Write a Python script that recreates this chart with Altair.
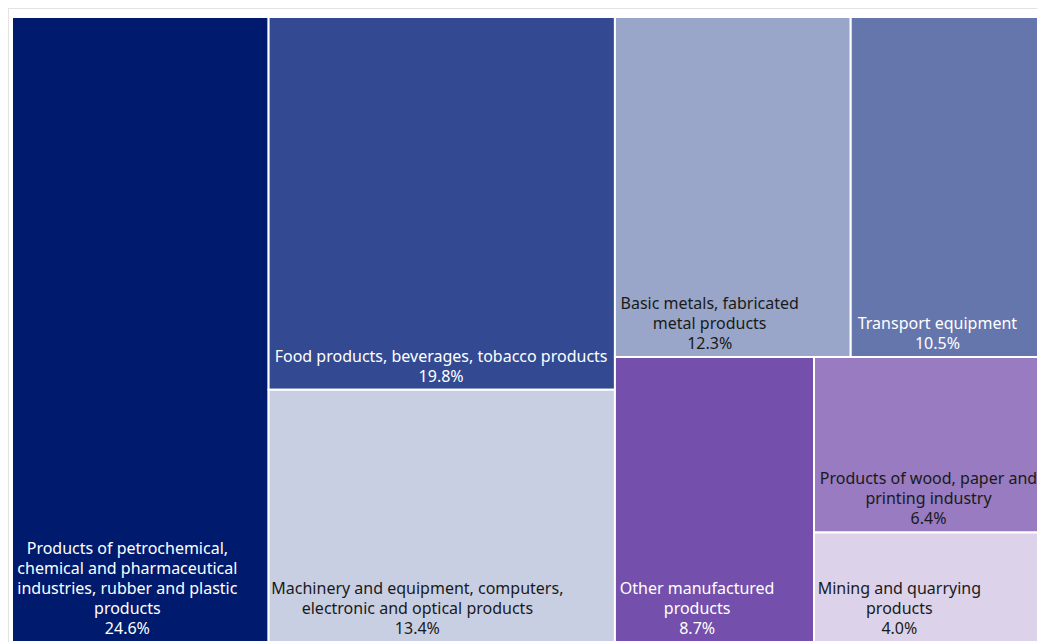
import altair as alt
import pandas as pd

# ---- data -------------------------------------------------------------
categories = [
    "Products of petrochemical, chemical and pharmaceutical industries, rubber and plastic products",
    "Food products, beverages, tobacco products",
    "Machinery and equipment, computers, electronic and optical products",
    "Basic metals, fabricated metal products",
    "Transport equipment",
    "Other manufactured products",
    "Products of wood, paper and printing industry",
    "Mining and quarrying products",
]
shares = [24.6, 19.8, 13.4, 12.3, 10.5, 8.7, 6.4, 4.0]
label_lines = [
    ["Products of petrochemical,", "chemical and pharmaceutical",
     "industries, rubber and plastic", "products"],
    ["Food products, beverages, tobacco products"],
    ["Machinery and equipment, computers,", "electronic and optical products"],
    ["Basic metals, fabricated", "metal products"],
    ["Transport equipment"],
    ["Other manufactured", "products"],
    ["Products of wood, paper and", "printing industry"],
    ["Mining and quarrying", "products"],
]
fill_colors = ["#001b6e", "#334a93", "#c9cfe3", "#99a6c9",
               "#6576ad", "#744fab", "#987bc0", "#dcd3eb"]
text_colors = ["#ffffff", "#ffffff", "#1a1a1a", "#1a1a1a",
               "#ffffff", "#ffffff", "#1a1a1a", "#1a1a1a"]

# slice-and-dice structure of the treemap (indices into the arrays above)
layout_tree = ("h", [0, ("v", [1, 2]),
                     ("v", [("h", [3, 4]), ("h", [5, ("v", [6, 7])])])])

TREE_W, TREE_H = 1040.0, 625.0   # treemap extent in scale units (1 unit = 1 px)
FONT_SIZE = 16
LINE_H = 20
PAD = 7

# approximate glyph advance widths (per 1000 em) for Noto Sans
_W = {"a": 561, "b": 615, "c": 480, "d": 615, "e": 564, "f": 344, "g": 615,
      "h": 618, "i": 258, "j": 258, "k": 534, "l": 258, "m": 935, "n": 618,
      "o": 605, "p": 615, "q": 615, "r": 413, "s": 479, "t": 361, "u": 618,
      "v": 508, "w": 786, "x": 529, "y": 510, "z": 470, " ": 260, ",": 268,
      ".": 268, "%": 838}


def text_width(s):
    tot = 0
    for ch in s:
        if ch in _W:
            tot += _W[ch]
        elif ch.isdigit():
            tot += 572
        elif ch.isupper():
            tot += 640
        else:
            tot += 560
    return tot / 1000.0 * FONT_SIZE * 0.985


def total(node):
    if isinstance(node, int):
        return shares[node]
    return sum(total(k) for k in node[1])


def place(node, x0, y0, x1, y1, out):
    if isinstance(node, int):
        out[node] = (x0, y0, x1, y1)
        return
    direction, kids = node
    t = total(node)
    pos = x0 if direction == "h" else y0
    for k in kids:
        frac = total(k) / t
        if direction == "h":
            nxt = pos + (x1 - x0) * frac
            place(k, pos, y0, nxt, y1, out)
        else:
            nxt = pos + (y1 - y0) * frac
            place(k, x0, pos, x1, nxt, out)
        pos = nxt


rects = {}
place(layout_tree, 0.0, 0.0, TREE_W, TREE_H, rects)

rows = []
for i, cat in enumerate(categories):
    x0, y0, x1, y1 = rects[i]
    lines = label_lines[i] + [f"{shares[i]:.1f}%"]
    block_w = max(text_width(s) for s in lines)
    rows.append({
        "category": cat,
        "x0": x0, "x1": x1, "y0": y0, "y1": y1,
        "tx": x0 + PAD + block_w / 2,
        "ty": y1 - 8 - (len(lines) - 1) * LINE_H,
        "label": "\n".join(lines),
        "tcol": text_colors[i],
    })
df = pd.DataFrame(rows)

CW, CH = 1029, 640
xs = alt.Scale(domain=[-4, CW - 4])
ys = alt.Scale(domain=[-9, CH - 9], reverse=True)

base = alt.Chart(df)

rect = base.mark_rect(stroke="white", strokeWidth=2).encode(
    x=alt.X("x0:Q", scale=xs, axis=None),
    x2="x1:Q",
    y=alt.Y("y0:Q", scale=ys, axis=None),
    y2="y1:Q",
    color=alt.Color("category:N",
                    scale=alt.Scale(domain=categories, range=fill_colors),
                    legend=None),
)

text = base.mark_text(align="center", baseline="alphabetic", lineBreak="\n",
                      font="Noto Sans", fontSize=FONT_SIZE,
                      lineHeight=LINE_H).encode(
    x=alt.X("tx:Q", scale=xs, axis=None),
    y=alt.Y("ty:Q", scale=ys, axis=None),
    text="label:N",
    color=alt.Color("tcol:N", scale=None),
)

frame = alt.Chart(pd.DataFrame({"k": [0]}))
top_line = frame.mark_rule(color="#e3e3e3", strokeWidth=1).encode(
    x=alt.value(0), x2=alt.value(CW), y=alt.value(0.5))
left_line = frame.mark_rule(color="#e3e3e3", strokeWidth=1).encode(
    x=alt.value(0.5), y=alt.value(0), y2=alt.value(CH))

chart = (top_line + left_line + rect + text).properties(
    width=CW, height=CH, padding=0,
    autosize=alt.AutoSizeParams(type="none"),
).configure_view(stroke=None)

chart.save("out.html", embed_options={"renderer": "svg", "actions": False})
